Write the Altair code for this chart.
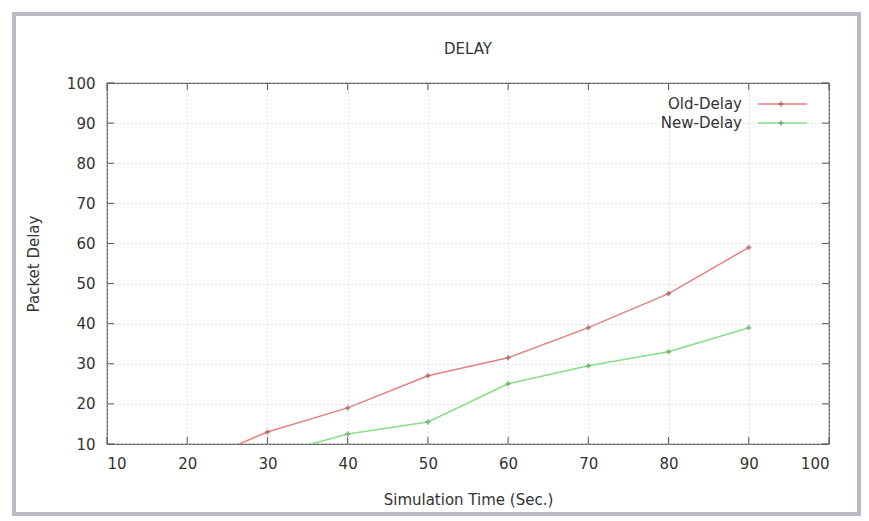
import altair as alt
import pandas as pd

# ---- data ----
old_times = [20, 30, 40, 50, 60, 70, 80, 90]
old_delay = [4.5, 13, 19, 27, 31.5, 39, 47.5, 59]
new_times = [30, 40, 50, 60, 70, 80, 90]
new_delay = [7, 12.5, 15.5, 25, 29.5, 33, 39]
series_names = ["Old-Delay", "New-Delay"]
line_colors = ["#e58080", "#88dd88"]
point_colors = ["#a06060", "#60a860"]
tick_values = [10, 20, 30, 40, 50, 60, 70, 80, 90, 100]

W, H = 722, 361
FONT = "DejaVu Sans"
FS = 15

df = pd.concat([
    pd.DataFrame({"time": old_times, "delay": old_delay, "series": series_names[0]}),
    pd.DataFrame({"time": new_times, "delay": new_delay, "series": series_names[1]}),
])

xs = alt.Scale(domain=[10, 100], nice=False)
ys = alt.Scale(domain=[10, 100], nice=False)
cs = alt.Scale(domain=series_names, range=line_colors)
ps = alt.Scale(domain=series_names, range=point_colors)

x_axis = alt.Axis(values=tick_values, grid=True, gridDash=[1, 3], gridColor="#c8c8c8",
                  ticks=False, domain=False, labelFont=FONT, labelFontSize=FS,
                  labelColor="#333", labelPadding=12,
                  title="Simulation Time (Sec.)", titleFont=FONT, titleFontSize=FS,
                  titleFontWeight="normal", titleColor="#333",
                  titleX=W / 2, titleY=55, titleBaseline="middle", titleAlign="center")
y_axis = alt.Axis(values=tick_values, grid=True, gridDash=[1, 3], gridColor="#c8c8c8",
                  ticks=False, domain=False, labelFont=FONT, labelFontSize=FS,
                  labelColor="#333", labelPadding=12,
                  title="Packet Delay", titleFont=FONT, titleFontSize=FS,
                  titleFontWeight="normal", titleColor="#333",
                  titleX=-74, titleY=H / 2, titleAngle=270,
                  titleBaseline="middle", titleAlign="center")

base = alt.Chart(df)

lines = base.mark_line(clip=True, strokeWidth=1.5).encode(
    x=alt.X("time:Q", scale=xs, axis=x_axis),
    y=alt.Y("delay:Q", scale=ys, axis=y_axis),
    color=alt.Color("series:N", scale=cs, legend=None),
    detail="series:N",
)
points = base.mark_point(clip=True, shape="cross", filled=True, size=25).encode(
    x=alt.X("time:Q", scale=xs),
    y=alt.Y("delay:Q", scale=ys),
    color=alt.Color("series:N", scale=ps, legend=None),
)

ticks_df = pd.DataFrame({"v": tick_values})
tb = alt.Chart(ticks_df)
xt_bottom = tb.mark_rule(color="#555").encode(x=alt.X("v:Q", scale=xs), y=alt.value(H), y2=alt.value(H - 7))
xt_top = tb.mark_rule(color="#555").encode(x=alt.X("v:Q", scale=xs), y=alt.value(0), y2=alt.value(7))
yt_left = tb.mark_rule(color="#555").encode(y=alt.Y("v:Q", scale=ys), x=alt.value(0), x2=alt.value(7))
yt_right = tb.mark_rule(color="#555").encode(y=alt.Y("v:Q", scale=ys), x=alt.value(W), x2=alt.value(W - 7))

title = alt.Chart(pd.DataFrame({"t": ["DELAY"]})).mark_text(
    font=FONT, fontSize=FS, color="#333", baseline="middle", align="center"
).encode(text="t:N", x=alt.value(W / 2), y=alt.value(-34))

frame = alt.Chart(pd.DataFrame({"a": [0]})).mark_rect(
    fill=None, stroke="#b8bcc2", strokeWidth=4, clip=False
).encode(x=alt.value(-93), x2=alt.value(752), y=alt.value(-69), y2=alt.value(431))

leg_layers = []
row_y = [21, 40]
for i, name in enumerate(series_names):
    lb = alt.Chart(pd.DataFrame({"series": [name]}))
    leg_layers.append(lb.mark_rule(strokeWidth=1.5, color=line_colors[i]).encode(
        x=alt.value(651), x2=alt.value(700), y=alt.value(row_y[i])))
    leg_layers.append(lb.mark_point(shape="cross", filled=True, size=25, color=point_colors[i]).encode(
        x=alt.value(674), y=alt.value(row_y[i])))
    leg_layers.append(lb.mark_text(font=FONT, fontSize=FS, color="#333", align="right",
                                   baseline="middle").encode(
        text="series:N", x=alt.value(635), y=alt.value(row_y[i])))

chart = alt.layer(
    lines, points, xt_bottom, xt_top, yt_left, yt_right, title, frame, *leg_layers
).resolve_scale(color="independent").properties(
    width=W, height=H,
    autosize=alt.AutoSizeParams(type="none"),
    padding={"left": 107, "top": 83, "right": 40, "bottom": 77},
    background="white",
).configure_view(stroke="#555", strokeWidth=1.2)

chart.save("out.html", embed_options={"renderer": "svg", "actions": False})
